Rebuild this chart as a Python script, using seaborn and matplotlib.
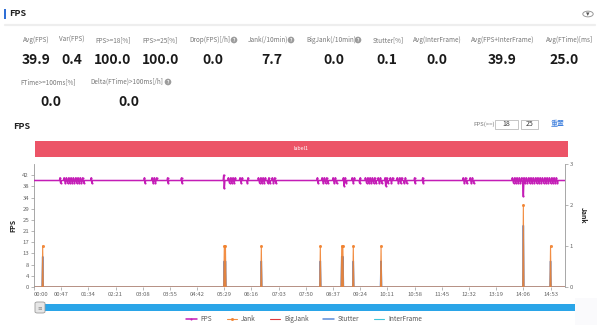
import numpy as np
import pandas as pd
import matplotlib
matplotlib.use("Agg")
import matplotlib.pyplot as plt
import seaborn as sns
from matplotlib.patches import Rectangle, FancyBboxPatch, Circle

sns.set_theme(style="white")
plt.rcParams['font.family'] = ['Noto Sans CJK SC', 'DejaVu Sans']

# ---------------- data ----------------
stat_labels_1 = ["Avg(FPS)", "Var(FPS)", "FPS>=18[%]", "FPS>=25[%]", "Drop(FPS)[/h]",
                 "Jank(/10min)", "BigJank(/10min)", "Stutter[%]", "Avg(InterFrame)",
                 "Avg(FPS+InterFrame)", "Avg(FTime)[ms]"]
stat_values_1 = ["39.9", "0.4", "100.0", "100.0", "0.0", "7.7", "0.0", "0.1", "0.0", "39.9", "25.0"]
stat_help_1 = [False, False, False, False, True, True, True, False, False, False, False]
stat_labels_2 = ["FTime>=100ms[%]", "Delta(FTime)>100ms[/h]"]
stat_values_2 = ["0.0", "0.0"]
stat_help_2 = [False, True]

duration_s = 918          # seconds covered by the run
fps_base = 40.0           # steady FPS level
fps_dev_t = [45, 46,
             52, 54, 56, 58, 60, 62, 64, 66, 68, 70, 72, 74, 76, 78, 80, 82, 84, 86,
             99, 100, 191, 192, 204, 206, 208, 210, 212, 231, 232, 255, 256,
             328, 329, 336, 338, 340, 342, 344, 346, 348, 356, 358, 360, 369, 370,
             388, 390, 392, 394, 396, 398, 400, 404, 406, 408, 412, 414, 416, 418,
             490, 491, 498, 500, 502, 504, 506, 508, 517, 519, 521, 523,
             535, 536, 538, 540, 550, 552, 554, 563, 564,
             573, 575, 577, 579, 581, 583, 585, 587, 589, 591, 595, 597, 599, 601,
             607, 608, 610, 612, 616, 618, 620, 628, 630, 632, 634, 636, 640, 642, 644,
             658, 659, 672, 673, 742, 744, 746, 748, 754, 756, 758, 760,
             827, 829, 831, 833, 835, 837, 839, 841, 843, 845, 846, 847, 849, 851, 853,
             855, 857, 859, 861, 863, 865, 867, 869, 871, 873, 875, 877, 879, 881, 883,
             885, 887, 889, 891, 893, 895, 897, 899, 901, 903, 905]
fps_dev_v = [41, 39,
             41, 39, 41, 39, 41, 39, 41, 39, 41, 39, 41, 39, 41, 39, 41, 39, 41, 39,
             41, 39, 41, 39, 41, 39, 41, 39, 41, 41, 39, 41, 39,
             42, 37, 41, 39, 41, 39, 41, 39, 41, 41, 39, 41, 39, 41,
             41, 39, 41, 39, 41, 39, 41, 39, 41, 39, 41, 39, 41, 39,
             41, 39, 41, 39, 41, 39, 41, 39, 41, 39, 41, 39,
             41, 38, 41, 39, 41, 39, 41, 39, 41,
             41, 39, 41, 39, 41, 39, 41, 39, 41, 39, 41, 39, 41, 39,
             41, 38, 41, 39, 41, 39, 41, 41, 39, 41, 39, 41, 39, 41, 39,
             41, 39, 41, 39, 41, 39, 41, 39, 41, 39, 41, 39,
             41, 39, 41, 39, 41, 39, 41, 39, 41, 39, 34, 41, 39, 41, 39,
             41, 39, 41, 39, 41, 39, 41, 39, 41, 39, 41, 39, 41, 39, 41,
             39, 41, 39, 41, 39, 41, 39, 41, 39, 41, 39]

jank_t = [15, 329, 331, 393, 495, 532, 534, 552, 600, 846, 893]
jank_v = [1, 1, 1, 1, 1, 1, 1, 1, 1, 2, 1]
stutter_t = [15, 329, 331, 393, 495, 532, 534, 552, 600, 846, 893]
stutter_v = [0.74, 0.63, 0.63, 0.63, 0.63, 0.74, 0.74, 0.63, 0.63, 1.5, 0.63]
bigjank_level = 0.0
interframe_level = 0.0

fps_tick_vals = [0, 4.2, 8.4, 12.6, 16.8, 21.0, 25.2, 29.4, 33.6, 37.8, 42.0]
fps_tick_labels = ["0", "4", "8", "13", "17", "21", "25", "29", "34", "38", "42"]
jank_ticks = [0, 1, 2, 3]
time_labels = ["00:00", "00:47", "01:34", "02:21", "03:08", "03:55", "04:42", "05:29",
               "06:16", "07:03", "07:50", "08:37", "09:24", "10:11", "10:58", "11:45",
               "12:32", "13:19", "14:06", "14:53"]
threshold_values = ["18", "25"]

# ---------------- build series ----------------
t = np.arange(duration_s + 1)
fps = np.full(t.shape, fps_base)
fps[fps_dev_t] = fps_dev_v
jank = np.zeros(t.shape)
jank[jank_t] = jank_v
stutter = np.zeros(t.shape)
stutter[stutter_t] = stutter_v
bigjank = np.full(t.shape, bigjank_level)
interframe = np.full(t.shape, interframe_level)
df = pd.DataFrame({"t": t, "FPS": fps, "Jank": jank, "Stutter": stutter,
                   "BigJank": bigjank, "InterFrame": interframe})
time_pos = [int(s[:2]) * 60 + int(s[3:]) for s in time_labels]

# ---------------- figure ----------------
W, H = 600, 327
fig = plt.figure(figsize=(W / 100, H / 100), dpi=100, facecolor="white")

def fx(x): return x / W
def fy(y): return 1 - y / H

def ftext(x, y, s, **kw):
    fig.text(fx(x), fy(y), s, **kw)

def frect(x0, y0, x1, y1, **kw):
    fig.patches.append(Rectangle((fx(x0), fy(y1)), fx(x1) - fx(x0), fy(y0) - fy(y1),
                                 transform=fig.transFigure, figure=fig, **kw))

C_LABEL = "#777777"
C_VAL = "#1a1a1a"

# header
frect(4, 9, 5.6, 19, color="#2F6FD6", lw=0)
ftext(9, 14, "FPS", fontsize=6.5, fontweight="bold", color="#222222", va="center", ha="left")
fig.patches.append(Circle((fx(588), fy(14)), 5.2 / W, transform=fig.transFigure, figure=fig,
                          fc="white", ec="#9a9a9a", lw=0.7))
ftext(588, 14.5, "▾", fontsize=5, color="#555555", ha="center", va="center",
      family="DejaVu Sans")
fig.lines.append(plt.Line2D([fx(5), fx(595)], [fy(24.5), fy(24.5)], transform=fig.transFigure,
                            color="#EEEEEE", lw=1.6))

# stats
lab1_x = [23, 59, 95, 142, 189, 248, 306, 373, 413, 471, 546]
val1_x = [36, 72, 113, 161, 213, 272, 334, 387, 437, 502, 564]
help1_x = [0, 0, 0, 0, 234, 291, 358, 0, 0, 0, 0]
for lab, val, hp, lx, vx, hx in zip(stat_labels_1, stat_values_1, stat_help_1, lab1_x, val1_x, help1_x):
    ftext(lx, 40, lab, fontsize=4.6, color=C_LABEL, ha="left", va="center")
    ftext(vx, 60.5, val, fontsize=10, fontweight="bold", color=C_VAL, ha="center", va="center")
    if hp:
        ftext(hx, 40, "?", fontsize=3.3, color="white", ha="center", va="center", fontweight="bold",
              bbox=dict(boxstyle="circle,pad=0.18", fc="#9c9c9c", ec="none"))
lab2_x = [20, 90]
val2_x = [51, 129]
help2_x = [0, 168]
for lab, val, hp, lx, vx, hx in zip(stat_labels_2, stat_values_2, stat_help_2, lab2_x, val2_x, help2_x):
    ftext(lx, 82, lab, fontsize=4.6, color=C_LABEL, ha="left", va="center")
    ftext(vx, 102, val, fontsize=10, fontweight="bold", color=C_VAL, ha="center", va="center")
    if hp:
        ftext(hx, 82, "?", fontsize=3.3, color="white", ha="center", va="center", fontweight="bold",
              bbox=dict(boxstyle="circle,pad=0.18", fc="#9c9c9c", ec="none"))

# chart sub-header
ftext(13, 126.5, "FPS", fontsize=6.5, fontweight="bold", color="#222222", ha="left", va="center")
ftext(473, 123.8, "FPS(>=)", fontsize=4.3, color=C_LABEL, ha="left", va="center")
for (x0, x1), v in zip([(495, 518), (521, 538)], threshold_values):
    frect(x0, 119.5, x1, 128.5, fc="white", ec="#bbbbbb", lw=0.6)
    ftext((x0 + x1) / 2, 124, v, fontsize=5, color="#333333", ha="center", va="center")
ftext(558, 123.8, "重置", fontsize=5, color="#3B7DDD", ha="center", va="center")

# label bar
frect(35, 141, 568, 156.5, color="#EC5467", lw=0)
ftext(301.5, 148.8, "label1", fontsize=3.8, color="white", ha="center", va="center")

# ---------------- plot ----------------
L, R, T, B = 34, 565, 164, 287
ax = fig.add_axes([fx(L), fy(B), (R - L) / W, (B - T) / H])
ax2 = ax.twinx()

C_FPS = "#C41DB6"
C_JANK = "#F1822F"
C_BIG = "#E03A3E"
C_STUT = "#5A8CDA"
C_INTER = "#3FC6DA"

dev_idx = list(np.flatnonzero(df["FPS"].values != fps_base))
sns.lineplot(data=df, x="t", y="FPS", ax=ax, color=C_FPS, linewidth=1.1,
             estimator=None, marker="o", markersize=1.5, markeredgewidth=0,
             markevery=dev_idx, label="FPS", legend=False, zorder=5)

sns.lineplot(data=df, x="t", y="Stutter", ax=ax2, color=C_STUT, linewidth=1.1,
             estimator=None, label="Stutter", legend=False, zorder=3)
sns.lineplot(data=df, x="t", y="InterFrame", ax=ax2, color=C_INTER, linewidth=0.8,
             estimator=None, label="InterFrame", legend=False, zorder=2)
sns.lineplot(data=df, x="t", y="BigJank", ax=ax2, color=C_BIG, linewidth=0.8,
             estimator=None, label="BigJank", legend=False, zorder=2)
jank_idx = list(np.flatnonzero(df["Jank"].values > 0))
sns.lineplot(data=df, x="t", y="Jank", ax=ax2, color=C_JANK, linewidth=0.8, alpha=0.9,
             estimator=None, marker="o", markersize=2.2, markeredgewidth=0,
             markevery=jank_idx, label="Jank", legend=False, zorder=4)
ax.set_zorder(ax2.get_zorder() + 1)
ax.patch.set_visible(False)

ax.set_xlim(0, duration_s)
ax.set_ylim(0, 46.2)
ax2.set_ylim(0, 3)
ax.set_yticks(fps_tick_vals)
ax.set_yticklabels(fps_tick_labels)
ax2.set_yticks(jank_ticks)
ax.set_xticks(time_pos)
ax.set_xticklabels(time_labels)
ax.get_xticklabels()[0].set_horizontalalignment("left")

tick_kw = dict(labelsize=4.3, labelcolor="#666666", color="#999999", length=2, width=0.5, pad=1.5)
ax.tick_params(axis="both", **tick_kw)
ax2.tick_params(axis="y", **tick_kw)
ax.xaxis.set_tick_params(bottom=True)
ax.yaxis.set_tick_params(left=True)
ax2.yaxis.set_tick_params(right=True)
for a in (ax, ax2):
    for s in a.spines.values():
        s.set_visible(False)
ax.spines["left"].set_visible(True)
ax.spines["left"].set_color("#999999")
ax.spines["left"].set_linewidth(0.6)
ax2.spines["right"].set_visible(True)
ax2.spines["right"].set_color("#999999")
ax2.spines["right"].set_linewidth(0.6)
ax.set_xlabel("")
ax.set_ylabel("")
ax2.set_ylabel("")
ax.grid(False)
ax2.grid(False)
ftext(13, 225, "FPS", fontsize=5, fontweight="bold", rotation=90, ha="center", va="center", color="#222222")
ftext(583, 215, "Jank", fontsize=5, fontweight="bold", rotation=270, ha="center", va="center", color="#222222")

# zoom slider
frect(575, 298, 597, 325, color="#FAFAFC", lw=0)
frect(35, 304, 575, 311, color="#2AA5E8", lw=0)
fig.patches.append(FancyBboxPatch((fx(35), fy(313)), 10 / W, 11 / H, boxstyle="round,pad=0,rounding_size=0.004",
                                  transform=fig.transFigure, figure=fig, fc="#E6E6E6", ec="#9a9a9a", lw=0.6))
ftext(40, 307.5, "≡", fontsize=4, color="#888888", ha="center", va="center", family="DejaVu Sans")

# legend
h1, l1 = ax.get_legend_handles_labels()
h2, l2 = ax2.get_legend_handles_labels()
hmap = dict(zip(l1 + l2, h1 + h2))
order = ["FPS", "Jank", "BigJank", "Stutter", "InterFrame"]
leg = fig.legend([hmap[k] for k in order], order, loc="center", ncol=5,
                 bbox_to_anchor=(fx(304), fy(319)), frameon=False, fontsize=4.7,
                 handlelength=1.6, handletextpad=0.6, columnspacing=2.2, labelcolor="#555555")

fig.savefig("out.png", dpi=100, facecolor="white")
